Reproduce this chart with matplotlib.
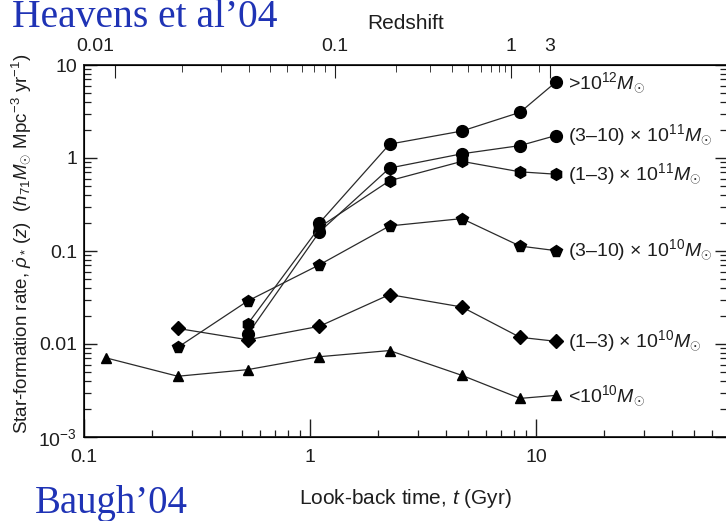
import numpy as np
import matplotlib.pyplot as plt
from matplotlib.ticker import FixedLocator, NullFormatter, LogLocator

plt.rcParams['font.family'] = ['Liberation Sans', 'DejaVu Sans']
plt.rcParams['mathtext.fontset'] = 'custom'
plt.rcParams['mathtext.rm'] = 'Liberation Sans'
plt.rcParams['mathtext.it'] = 'Liberation Sans:italic'
plt.rcParams['mathtext.bf'] = 'Liberation Sans:bold'

# look-back time bins (Gyr)
lookback = [0.125, 0.26, 0.53, 1.1, 2.25, 4.7, 8.5, 12.2]
nan = np.nan

# star-formation rate per stellar-mass bin (h71 Msun Mpc^-3 yr^-1)
sfr_gt1e12 = [nan, nan, nan, 0.20, 1.41, 1.95, 3.1, 6.5]
sfr_3to10e11 = [nan, nan, 0.0127, 0.16, 0.78, 1.11, 1.36, 1.74]
sfr_1to3e11 = [nan, nan, 0.0164, 0.18, 0.57, 0.92, 0.71, 0.67]
sfr_3to10e10 = [nan, 0.0092, 0.029, 0.071, 0.186, 0.223, 0.113, 0.101]
sfr_1to3e10 = [nan, 0.0147, 0.0111, 0.0155, 0.034, 0.025, 0.0118, 0.0107]
sfr_lt1e10 = [0.0071, 0.0045, 0.0053, 0.0073, 0.0085, 0.0046, 0.0026, 0.0028]

series = [
    (sfr_gt1e12, 'o', r'>$10^{12}M_{\odot}$'),
    (sfr_3to10e11, 'o', r'(3–10) × $10^{11}M_{\odot}$'),
    (sfr_1to3e11, 'h', r'(1–3) × $10^{11}M_{\odot}$'),
    (sfr_3to10e10, 'p', r'(3–10) × $10^{10}M_{\odot}$'),
    (sfr_1to3e10, 'D', r'(1–3) × $10^{10}M_{\odot}$'),
    (sfr_lt1e10, '^', r'<$10^{10}M_{\odot}$'),
]
marker_sizes = {'o': 8.5, 'h': 8.5, 'p': 8.5, 'D': 7.3, '^': 7}

# redshift ticks for the top axis
z_major = [0.01, 0.1, 1, 3]
z_minor = [0.02, 0.03, 0.04, 0.05, 0.06, 0.07, 0.08, 0.09,
           0.2, 0.3, 0.4, 0.5, 0.6, 0.7, 0.8, 0.9, 2]


def lookback_time(z, h0=71.0, om=0.27):
    # flat LCDM look-back time in Gyr
    zz = np.linspace(0, z, 2000)
    ez = np.sqrt(om * (1 + zz) ** 3 + (1 - om))
    t_hubble = 977.8 / h0
    return t_hubble * np.trapezoid(1.0 / ((1 + zz) * ez), zz)


ink = '#1e1e1e'
fig = plt.figure(figsize=(7.26, 5.21), dpi=100)
ax = fig.add_axes([84 / 726, 1 - 437 / 521, (727 - 84) / 726, (437 - 65) / 521])

for vals, mk, label in series:
    ax.plot(lookback, vals, color='#2a2a2a', lw=0.9, marker=mk,
            ms=marker_sizes[mk], mfc='black', mec='black')
    last = len(vals) - 1
    ax.annotate(label, (lookback[last], vals[last]), xytext=(9, 0),
                textcoords='offset points', va='center', ha='left',
                fontsize=14, color=ink)

ax.set_xscale('log')
ax.set_yscale('log')
ax.set_xlim(0.1, 70)
ax.set_ylim(1e-3, 10)

ax.set_yticks([1e-3, 1e-2, 0.1, 1, 10])
ax.set_yticklabels([r'$10^{-3}$', '0.01', '0.1', '1', '10'])
ax.yaxis.set_minor_locator(LogLocator(base=10, subs=np.arange(2, 10)))
ax.yaxis.set_minor_formatter(NullFormatter())
ax.set_xticks([0.1, 1, 10])
ax.set_xticklabels(['0.1', '1', '10'])
ax.xaxis.set_minor_locator(LogLocator(base=10, subs=np.arange(2, 10)))
ax.xaxis.set_minor_formatter(NullFormatter())

ax.tick_params(which='major', direction='in', length=9, width=1,
               labelsize=14, pad=5, right=True, colors=ink)
ax.tick_params(which='minor', direction='in', length=5, width=0.9,
               right=True, colors=ink)
ax.tick_params(axis='x', which='major', length=13, pad=9)
for sp in ax.spines.values():
    sp.set_linewidth(1.3)
    sp.set_color(ink)

ax.set_xlabel('Look-back time, $t$ (Gyr)', fontsize=15, labelpad=15,
              color=ink)
ax.set_ylabel(r'Star-formation rate, $\dot{\rho}_*\,(z)$  '
              r'($h_{71}M_{\odot}$ Mpc$^{-3}$ yr$^{-1}$)',
              fontsize=13.5, color=ink)
ax.yaxis.set_label_coords(-0.079, 0.52)

# redshift axis along the top
top = ax.twiny()
top.set_xscale('log')
top.set_xlim(ax.get_xlim())
top.xaxis.set_major_locator(FixedLocator([lookback_time(z) for z in z_major]))
top.xaxis.set_minor_locator(FixedLocator([lookback_time(z) for z in z_minor]))
top.set_xticklabels([f'{z:g}' for z in z_major])
top.xaxis.set_minor_formatter(NullFormatter())
top.get_xticklabels()[0].set_ha('right')
top.tick_params(which='major', direction='in', length=9, labelsize=14,
                pad=7, colors=ink)
top.tick_params(which='minor', direction='in', length=5, colors=ink)
top.set_xlabel('Redshift', fontsize=15, labelpad=7, color=ink)

blue = '#1f33b5'
fig.text(12 / 726, 1 - 27 / 521, 'Heavens et al’04', fontsize=28.5,
         family='Liberation Serif', color=blue, va='baseline')
fig.text(35 / 726, 1 - 513 / 521, 'Baugh’04', fontsize=28,
         family='Liberation Serif', color=blue, va='baseline')

fig.savefig('out.png', dpi=100)
